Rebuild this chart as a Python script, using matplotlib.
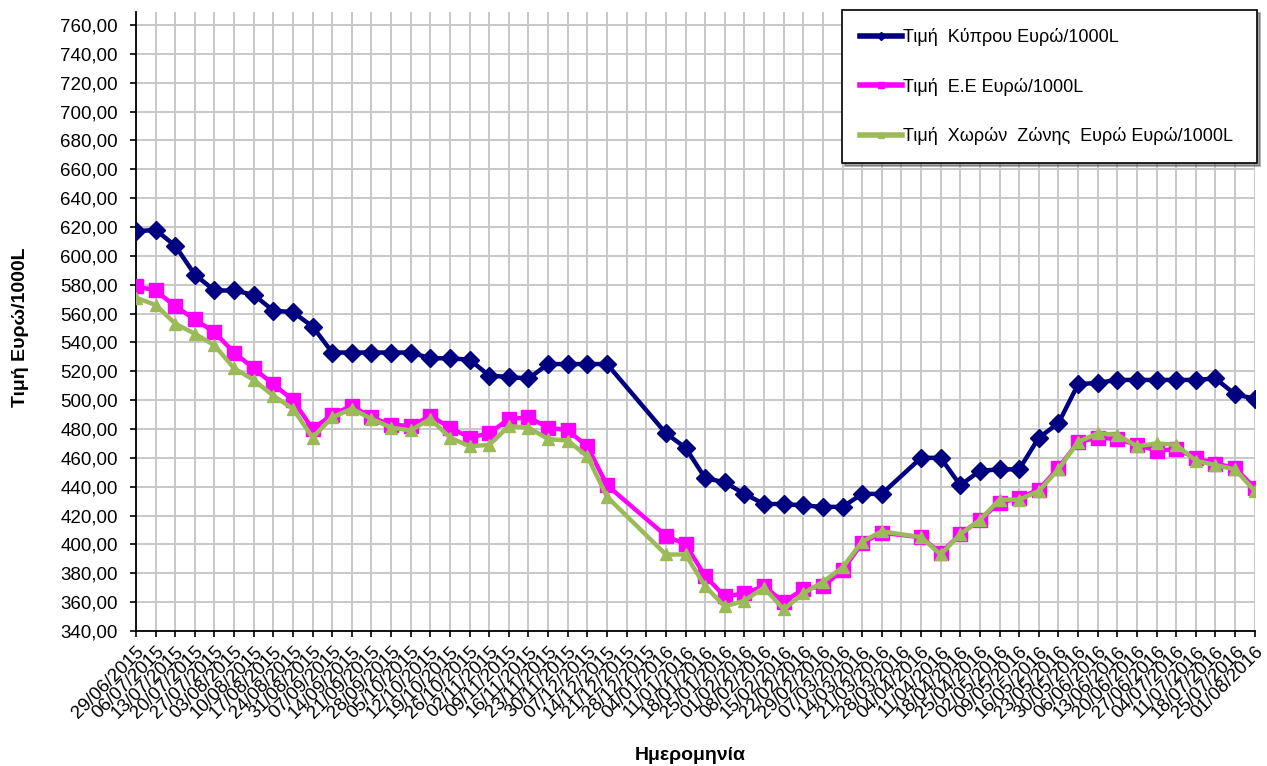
import matplotlib
matplotlib.use("Agg")
import matplotlib.pyplot as plt
import numpy as np
from matplotlib.lines import Line2D
from matplotlib.ticker import FuncFormatter, MultipleLocator

plt.rcParams['font.family'] = ['Liberation Sans', 'DejaVu Sans']

dates = ['29/06/2015', '06/07/2015', '13/07/2015', '20/07/2015', '27/07/2015',
         '03/08/2015', '10/08/2015', '17/08/2015', '24/08/2015', '31/08/2015',
         '07/09/2015', '14/09/2015', '21/09/2015', '28/09/2015', '05/10/2015',
         '12/10/2015', '19/10/2015', '26/10/2015', '02/11/2015', '09/11/2015',
         '16/11/2015', '23/11/2015', '30/11/2015', '07/12/2015', '14/12/2015',
         '21/12/2015', '28/12/2015', '04/01/2016', '11/01/2016', '18/01/2016',
         '25/01/2016', '01/02/2016', '08/02/2016', '15/02/2016', '22/02/2016',
         '29/02/2016', '07/03/2016', '14/03/2016', '21/03/2016', '28/03/2016',
         '04/04/2016', '11/04/2016', '18/04/2016', '25/04/2016', '02/05/2016',
         '09/05/2016', '16/05/2016', '23/05/2016', '30/05/2016', '06/06/2016',
         '13/06/2016', '20/06/2016', '27/06/2016', '04/07/2016', '11/07/2016',
         '18/07/2016', '25/07/2016', '01/08/2016']

# None = no price that week (line is joined across the gap)
cyprus = [617, 618, 607, 587, 576, 576, 573, 562, 561, 551,
          533, 533, 533, 533, 533, 529, 529, 528, 517, 516,
          515, 525, 525, 525, 525, None, None, 477, 467, 446,
          443, 435, 428, 428, 427, 426, 426, 435, 435, None,
          460, 460, 441, 451, 452, 452, 474, 484, 511, 512,
          514, 514, 514, 514, 514, 515, 504, 501]

eu = [579, 576, 565, 556, 547, 533, 522, 511, 500, 480,
      490, 496, 488, 483, 482, 489, 481, 474, 477, 487,
      488, 481, 479, 468, 441, None, None, 406, 400, 378,
      364, 366, 371, 360, 369, 371, 382, 401, 408, None,
      405, 394, 407, 417, 429, 432, 438, 453, 471, 474,
      473, 469, 465, 466, 460, 456, 453, 439]

eurozone = [571, 566, 553, 546, 538, 522, 514, 503, 494, 474,
            488, 494, 487, 481, 479, 487, 474, 468, 469, 482,
            481, 473, 472, 461, 433, None, None, 393, 393, 371,
            357, 361, 370, 355, 366, 374, 384, 402, 409, None,
            405, 393, 407, 417, 431, 431, 437, 452, 471, 477,
            476, 468, 470, 469, 458, 455, 452, 437]

labels = ['Τιμή  Κύπρου Ευρώ/1000L', 'Τιμή  Ε.Ε Ευρώ/1000L',
          'Τιμή  Χωρών  Ζώνης  Ευρώ Ευρώ/1000L']


def valid(series):
    x = [i for i, v in enumerate(series) if v is not None]
    y = [v for v in series if v is not None]
    return x, y


fig = plt.figure(figsize=(12.67, 7.66), dpi=100)
ax = fig.add_axes([0.1073, 0.1763, 0.8830, 0.808])

styles = [
    (cyprus, '#000080', 'D', 9, 3.2),
    (eu, '#FF00FF', 's', 10, 3.2),
    (eurozone, '#9BBB59', '^', 9, 3.2),
]
handles = []
for (series, col, mk, ms, lw), lab in zip(styles, labels):
    x, y = valid(series)
    ax.plot(x, y, color=col, marker=mk, markersize=ms, linewidth=lw, zorder=3)
    handles.append(Line2D([], [], color=col, marker=mk, markersize=4, linewidth=4))

ax.set_xlim(0, len(dates) - 1)
ax.set_ylim(340, 769)
ax.yaxis.set_major_locator(MultipleLocator(20))
ax.yaxis.set_major_formatter(FuncFormatter(lambda v, p: f'{v:.2f}'.replace('.', ',')))
ax.set_xticks(range(len(dates)))
ax.set_xticklabels(dates, rotation=45, ha='right', rotation_mode='anchor', fontsize=13.5)
ax.tick_params(axis='y', labelsize=13.5, length=4, width=1.2, pad=9)
ax.tick_params(axis='x', length=4, width=1.2, pad=5)

ax.grid(True, color='#C8C8C8', linewidth=1.4)
ax.set_axisbelow(True)
for s in ['top', 'right']:
    ax.spines[s].set_visible(False)
for s in ['left', 'bottom']:
    ax.spines[s].set_linewidth(1.3)

fig.text(0.016, 0.573, 'Τιμή Ευρώ/1000L', rotation=90, ha='center', va='center',
         fontsize=14, fontweight='bold')
fig.text(0.545, 0.025, 'Ημερομηνία', ha='center', va='top',
         fontsize=14, fontweight='bold')

leg = fig.legend(handles, labels, loc='upper left',
                 bbox_to_anchor=(0.6646, 0.987, 0.3275, 0.0), mode='expand',
                 borderaxespad=0, fontsize=13, labelspacing=1.75,
                 handlelength=2.3, handletextpad=0.05, borderpad=1.0,
                 fancybox=False, shadow=True, framealpha=1, edgecolor='black')
leg.get_frame().set_linewidth(1.2)

fig.savefig('out.png', dpi=100)
